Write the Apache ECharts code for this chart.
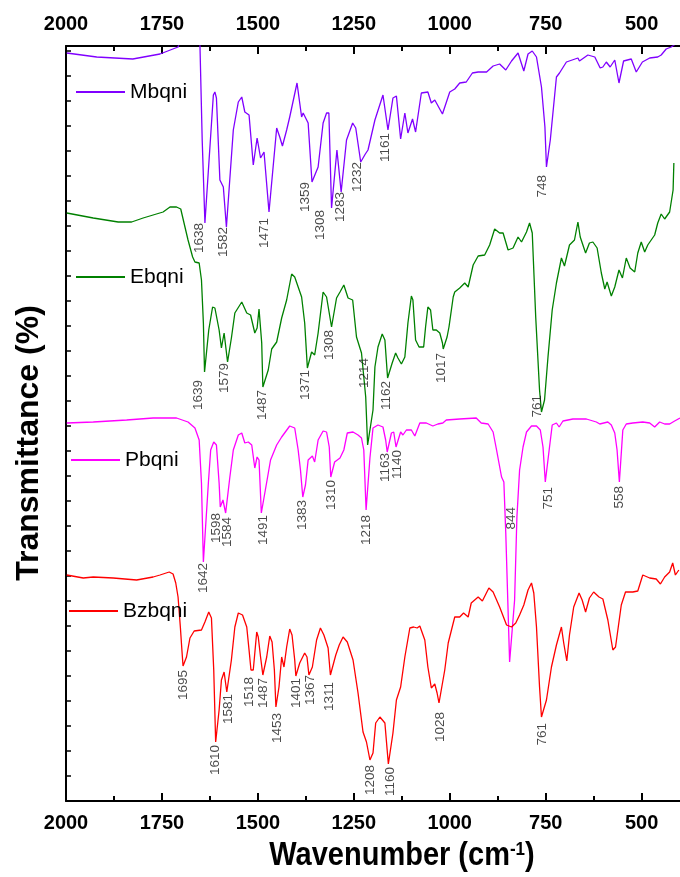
<!DOCTYPE html>
<html>
<head>
<meta charset="utf-8">
<title>FTIR spectra</title>
<script src="https://cdn.jsdelivr.net/npm/echarts@6/dist/echarts.min.js"></script>
<style>
  html, body { margin: 0; padding: 0; background: #fff; }
  #chart { width: 680px; height: 877px; }
</style>
</head>
<body>
<div id="chart"></div>
<script>
// Wavenumber ticks (cm-1)
const majorTicks = [2000, 1750, 1500, 1250, 1000, 750, 500];
const minorTicks = [1875, 1625, 1375, 1125, 875, 625];

const seriesNames = ['Mbqni', 'Ebqni', 'Pbqni', 'Bzbqni'];

// Stacked (offset) transmittance, [wavenumber, T]
const mbqni = [
  [1998,748],[1920,744],[1826,742],[1755,747],[1708,754],[1690,775],[1660,775],[1651,757],[1645,660],
  [1638,578],[1616,706],[1612,709],[1608,703],[1599,621],[1590,614],[1582,574],[1564,671],[1551,699],
  [1542,704],[1534,689],[1523,686],[1512,636],[1502,663],[1493,643],[1484,649],[1471,589],[1451,673],
  [1443,664],[1436,655],[1425,671],[1417,684],[1398,718],[1386,684],[1382,688],[1369,678],[1359,619],
  [1343,634],[1330,678],[1321,688],[1315,688],[1308,593],[1294,651],[1283,609],[1269,661],[1253,678],
  [1245,673],[1232,639],[1220,647],[1213,651],[1195,681],[1174,706],[1161,671],[1148,703],[1139,705],
  [1128,662],[1117,688],[1109,668],[1097,682],[1089,669],[1074,708],[1057,709],[1048,698],[1039,701],
  [1019,687],[1000,709],[987,712],[974,718],[957,719],[941,728],[926,729],[904,729],[887,735],[870,737],
  [854,731],[839,740],[822,748],[807,730],[796,747],[785,750],[774,744],[761,714],[752,674],[748,634],
  [738,661],[722,724],[714,728],[696,739],[666,743],[662,740],[640,746],[622,744],[608,733],[601,734],
  [592,739],[582,734],[570,741],[559,718],[547,740],[527,742],[514,729],[498,739],[479,743],[458,744],
  [449,746],[436,752],[423,754],[400,760]
];

const ebqni = [
  [1998,588],[1929,583],[1864,579],[1829,579],[1799,583],[1773,586],[1747,589],[1729,594],[1712,594],
  [1701,592],[1690,574],[1682,561],[1670,544],[1664,539],[1653,538],[1647,521],[1642,478],[1639,429],
  [1628,471],[1618,494],[1612,493],[1601,471],[1595,453],[1588,468],[1579,439],[1569,463],[1560,488],
  [1542,499],[1529,488],[1519,486],[1508,468],[1502,473],[1497,492],[1490,458],[1487,414],[1473,431],
  [1464,452],[1451,459],[1438,483],[1425,501],[1412,527],[1404,524],[1395,514],[1386,504],[1378,478],
  [1371,433],[1360,449],[1352,446],[1343,468],[1330,509],[1321,504],[1308,474],[1295,503],[1286,509],
  [1276,516],[1265,503],[1253,501],[1243,464],[1230,448],[1219,404],[1214,356],[1200,391],[1195,434],
  [1187,454],[1176,467],[1169,461],[1162,423],[1150,438],[1141,448],[1135,443],[1126,437],[1117,444],
  [1109,478],[1100,505],[1096,501],[1089,461],[1080,454],[1068,454],[1063,474],[1057,494],[1050,491],
  [1044,471],[1035,471],[1026,468],[1019,458],[1017,452],[1007,464],[1002,474],[991,504],[987,509],
  [974,513],[961,518],[952,514],[939,536],[926,545],[909,546],[896,556],[883,572],[870,568],[861,568],
  [848,551],[835,553],[822,564],[813,559],[800,569],[792,578],[785,568],[776,484],[766,411],[761,389],
  [753,401],[744,444],[733,491],[722,518],[709,543],[701,535],[688,556],[675,561],[666,579],[660,564],
  [646,548],[636,558],[627,559],[616,553],[605,528],[596,512],[590,519],[579,505],[570,514],[559,531],
  [550,523],[540,543],[530,533],[518,529],[510,548],[501,559],[492,549],[484,556],[466,566],[458,578],
  [449,587],[440,582],[427,589],[418,611],[416,638]
];

const pbqni = [
  [1998,378],[1929,379],[1842,381],[1773,383],[1712,383],[1682,379],[1664,373],[1653,361],[1647,318],
  [1642,239],[1629,318],[1623,351],[1615,359],[1608,356],[1601,318],[1598,294],[1591,301],[1584,288],
  [1573,324],[1564,351],[1551,366],[1542,368],[1534,358],[1525,359],[1516,356],[1508,333],[1502,344],
  [1497,341],[1491,288],[1476,321],[1467,341],[1451,356],[1438,364],[1417,375],[1404,373],[1395,351],
  [1389,331],[1383,304],[1376,316],[1369,341],[1358,345],[1352,339],[1343,361],[1330,370],[1321,369],
  [1314,354],[1310,324],[1300,339],[1286,343],[1276,351],[1267,368],[1252,369],[1239,366],[1230,363],
  [1224,351],[1218,291],[1208,343],[1200,373],[1187,376],[1174,374],[1167,361],[1163,349],[1152,368],
  [1146,369],[1140,354],[1128,369],[1122,366],[1113,371],[1100,371],[1091,365],[1078,378],[1061,378],
  [1044,375],[1031,377],[1018,378],[1009,381],[974,382],[931,383],[918,378],[900,377],[887,369],
  [878,351],[865,324],[859,319],[854,268],[844,139],[831,201],[825,284],[818,331],[809,354],[800,369],
  [787,375],[774,375],[764,371],[757,354],[751,319],[740,354],[733,376],[722,378],[715,374],[705,380],
  [679,382],[644,382],[618,379],[609,377],[588,379],[579,376],[570,368],[564,351],[558,319],[549,371],
  [540,377],[523,378],[497,379],[479,378],[466,374],[453,379],[440,377],[427,377],[414,380],[400,383]
];

const bzbqni = [
  [1998,226],[1955,223],[1929,224],[1877,223],[1816,221],[1773,224],[1755,226],[1731,229],[1721,227],
  [1714,218],[1708,204],[1702,174],[1698,151],[1695,135],[1686,144],[1677,163],[1666,170],[1647,171],
  [1638,179],[1628,189],[1621,183],[1615,131],[1610,59],[1601,91],[1595,121],[1588,129],[1581,109],
  [1569,141],[1560,174],[1551,188],[1540,186],[1529,174],[1523,151],[1518,131],[1512,131],[1503,169],
  [1499,164],[1493,144],[1487,126],[1477,144],[1469,165],[1463,159],[1457,131],[1453,94],[1445,114],
  [1438,144],[1432,134],[1425,154],[1417,172],[1411,166],[1404,141],[1401,125],[1391,138],[1378,148],
  [1372,144],[1367,126],[1358,134],[1347,161],[1337,173],[1328,166],[1317,153],[1311,126],[1297,146],
  [1288,156],[1278,164],[1267,159],[1252,141],[1239,108],[1226,69],[1217,59],[1208,41],[1200,48],
  [1193,78],[1182,84],[1178,85],[1169,78],[1160,37],[1148,68],[1139,101],[1128,114],[1117,144],
  [1104,173],[1094,174],[1085,173],[1078,175],[1065,161],[1057,134],[1048,113],[1039,117],[1033,108],
  [1028,98],[1013,131],[1004,158],[987,184],[974,184],[964,188],[952,184],[944,198],[926,204],[915,200],
  [898,213],[887,209],[870,194],[852,176],[839,174],[828,178],[818,186],[807,196],[796,211],[787,218],
  [781,208],[774,174],[766,114],[761,84],[748,101],[735,134],[722,156],[709,174],[703,158],[695,140],
  [688,166],[677,194],[663,208],[655,201],[646,189],[636,203],[625,209],[611,204],[601,202],[588,181],
  [575,151],[568,154],[553,196],[542,209],[523,209],[510,210],[497,226],[479,223],[462,222],[451,217],
  [440,224],[427,229],[419,238],[412,226],[403,231]
];

// Band assignments marked on each trace (cm-1)
const mbqniPeaks = [1638, 1582, 1471, 1359, 1308, 1283, 1232, 1161, 748];
const ebqniPeaks = [1639, 1579, 1487, 1371, 1308, 1214, 1162, 1017, 761];
const pbqniPeaks = [1642, 1598, 1584, 1491, 1383, 1310, 1218, 1163, 1140, 844, 751, 558];
const bzbqniPeaks = [1695, 1610, 1581, 1518, 1487, 1453, 1401, 1367, 1311, 1208, 1160, 1028, 761];

const spectra = [mbqni, ebqni, pbqni, bzbqni];
const peaks = [mbqniPeaks, ebqniPeaks, pbqniPeaks, bzbqniPeaks];
const colors = ['#8000ff', '#008000', '#ff00ff', '#ff0000'];

// Screen nudges [right, down] in pixels so the band labels clear neighbouring traces
const labelNudge = {
  'Mbqni1638': [-6, 0], 'Mbqni1582': [-3, 0], 'Mbqni1471': [-5, 6], 'Mbqni1359': [-7, 0],
  'Mbqni1308': [-11, 2], 'Mbqni1283': [-1, 0], 'Mbqni1232': [-3, 0], 'Mbqni1161': [-3, 3],
  'Mbqni748': [-4, 8],
  'Ebqni1639': [-6, 8], 'Ebqni1579': [-3, 1], 'Ebqni1487': [-1, 3], 'Ebqni1371': [-2, 2],
  'Ebqni1308': [-2, 3], 'Ebqni1214': [-3, -87], 'Ebqni1162': [-1, 3], 'Ebqni1017': [-2, 4],
  'Ebqni761': [-4, -17],
  'Pbqni1642': [0, 1], 'Pbqni1598': [-4, 6], 'Pbqni1584': [2, 4], 'Pbqni1491': [2, 2],
  'Pbqni1383': [0, 3], 'Pbqni1310': [0, 3], 'Pbqni1218': [0, 5], 'Pbqni1163': [-2, 1],
  'Pbqni1140': [1, 3], 'Pbqni844': [2, -155], 'Pbqni751': [3, 5], 'Pbqni558': [0, 4],
  'Bzbqni1695': [0, 4], 'Bzbqni1610': [0, 3], 'Bzbqni1581': [1, 2], 'Bzbqni1518': [-2, 7],
  'Bzbqni1487': [0, 3], 'Bzbqni1453': [1, 6], 'Bzbqni1401': [0, 2], 'Bzbqni1367': [1, 0],
  'Bzbqni1311': [-1, 7], 'Bzbqni1208': [0, 5], 'Bzbqni1160': [2, 3], 'Bzbqni1028': [1, 9],
  'Bzbqni761': [1, 6]
};

const sans = "'Liberation Sans', Arial, sans-serif";

const legendPos = [
  { left: 75, top: 80 },
  { left: 75, top: 265 },
  { left: 70, top: 448 },
  { left: 68, top: 599 }
];

function peakItems(name, spectrum, list) {
  return list.map(function (wn) {
    const pt = spectrum.find(function (p) { return p[0] === wn; });
    const n = labelNudge[name + wn] || [0, 3];
    // label is turned 90 deg, so its offset is given in the turned frame
    return { value: pt, label: { offset: [-n[1], n[0]] } };
  });
}

const lineSeries = seriesNames.map(function (name, i) {
  return {
    type: 'line', name: name, data: spectra[i],
    xAxisIndex: 0, yAxisIndex: 0,
    symbol: 'none', clip: true, z: 2,
    lineStyle: { color: colors[i], width: 1.3 },
    itemStyle: { color: colors[i] }
  };
});

const labelSeries = seriesNames.map(function (name, i) {
  return {
    type: 'scatter', name: name + ' bands', data: peakItems(name, spectra[i], peaks[i]),
    xAxisIndex: 0, yAxisIndex: 0, symbolSize: 0, silent: true, z: 3,
    label: {
      show: true, position: 'inside', rotate: 90, align: 'right', verticalAlign: 'middle',
      fontFamily: sans, fontSize: 13.5, color: '#1a1a1a',
      formatter: function (p) { return String(p.value[0]); }
    }
  };
});

function wnAxis(pos, ticks, len, showLine, showLabel) {
  return {
    type: 'value', position: pos, min: 400, max: 2000, inverse: true, gridIndex: 0,
    axisLine: { show: showLine, onZero: false, lineStyle: { color: '#000', width: 2 } },
    axisTick: { show: true, inside: true, length: len, customValues: ticks,
                lineStyle: { color: '#000', width: 2 } },
    axisLabel: { show: showLabel, customValues: ticks, margin: 12, color: '#000',
                 fontFamily: sans, fontWeight: 'bold', fontSize: 20,
                 formatter: function (v) { return String(v); } },
    splitLine: { show: false }
  };
}

const chart = echarts.init(document.getElementById('chart'), null, { renderer: 'canvas' });
chart.setOption({
  animation: false,
  backgroundColor: '#fff',
  grid: { left: 66, right: 0, top: 46, bottom: 76, containLabel: false },
  xAxis: [
    wnAxis('bottom', majorTicks, 8, true, true),
    wnAxis('top', majorTicks, 8, true, true),
    wnAxis('bottom', minorTicks, 5, false, false),
    wnAxis('top', minorTicks, 5, false, false)
  ],
  yAxis: {
    type: 'value', min: 0, max: 755, interval: 25,
    axisLine: { show: true, lineStyle: { color: '#000', width: 2 } },
    axisTick: { show: true, inside: true, length: 5, lineStyle: { color: '#000', width: 1.5 } },
    axisLabel: { show: false },
    splitLine: { show: false }
  },
  legend: seriesNames.map(function (name, i) {
    return {
      data: [name], left: legendPos[i].left, top: legendPos[i].top,
      padding: 0, itemWidth: 49, itemHeight: 14, selectedMode: false,
      itemStyle: { opacity: 0 },
      textStyle: { fontFamily: sans, fontSize: 21, color: '#000', lineHeight: 24 }
    };
  }),
  graphic: [
    {
      type: 'text', x: 402, y: 856, scaleY: 1.12,
      style: {
        text: 'Wavenumber (cm{sup|-1})',
        fontFamily: sans, fontWeight: 'bold', fontSize: 29, fill: '#000',
        align: 'center', verticalAlign: 'middle',
        rich: { sup: { fontFamily: sans, fontWeight: 'bold', fontSize: 17, fill: '#000',
                       verticalAlign: 'top', padding: [0, 0, 12, 0] } }
      }
    },
    {
      type: 'text', x: 29, y: 443, rotation: Math.PI / 2,
      style: {
        text: 'Transmittance (%)', fontFamily: sans, fontWeight: 'bold', fontSize: 32,
        fill: '#000', align: 'center', verticalAlign: 'middle'
      }
    }
  ],
  series: lineSeries.concat(labelSeries)
});
</script>
</body>
</html>
